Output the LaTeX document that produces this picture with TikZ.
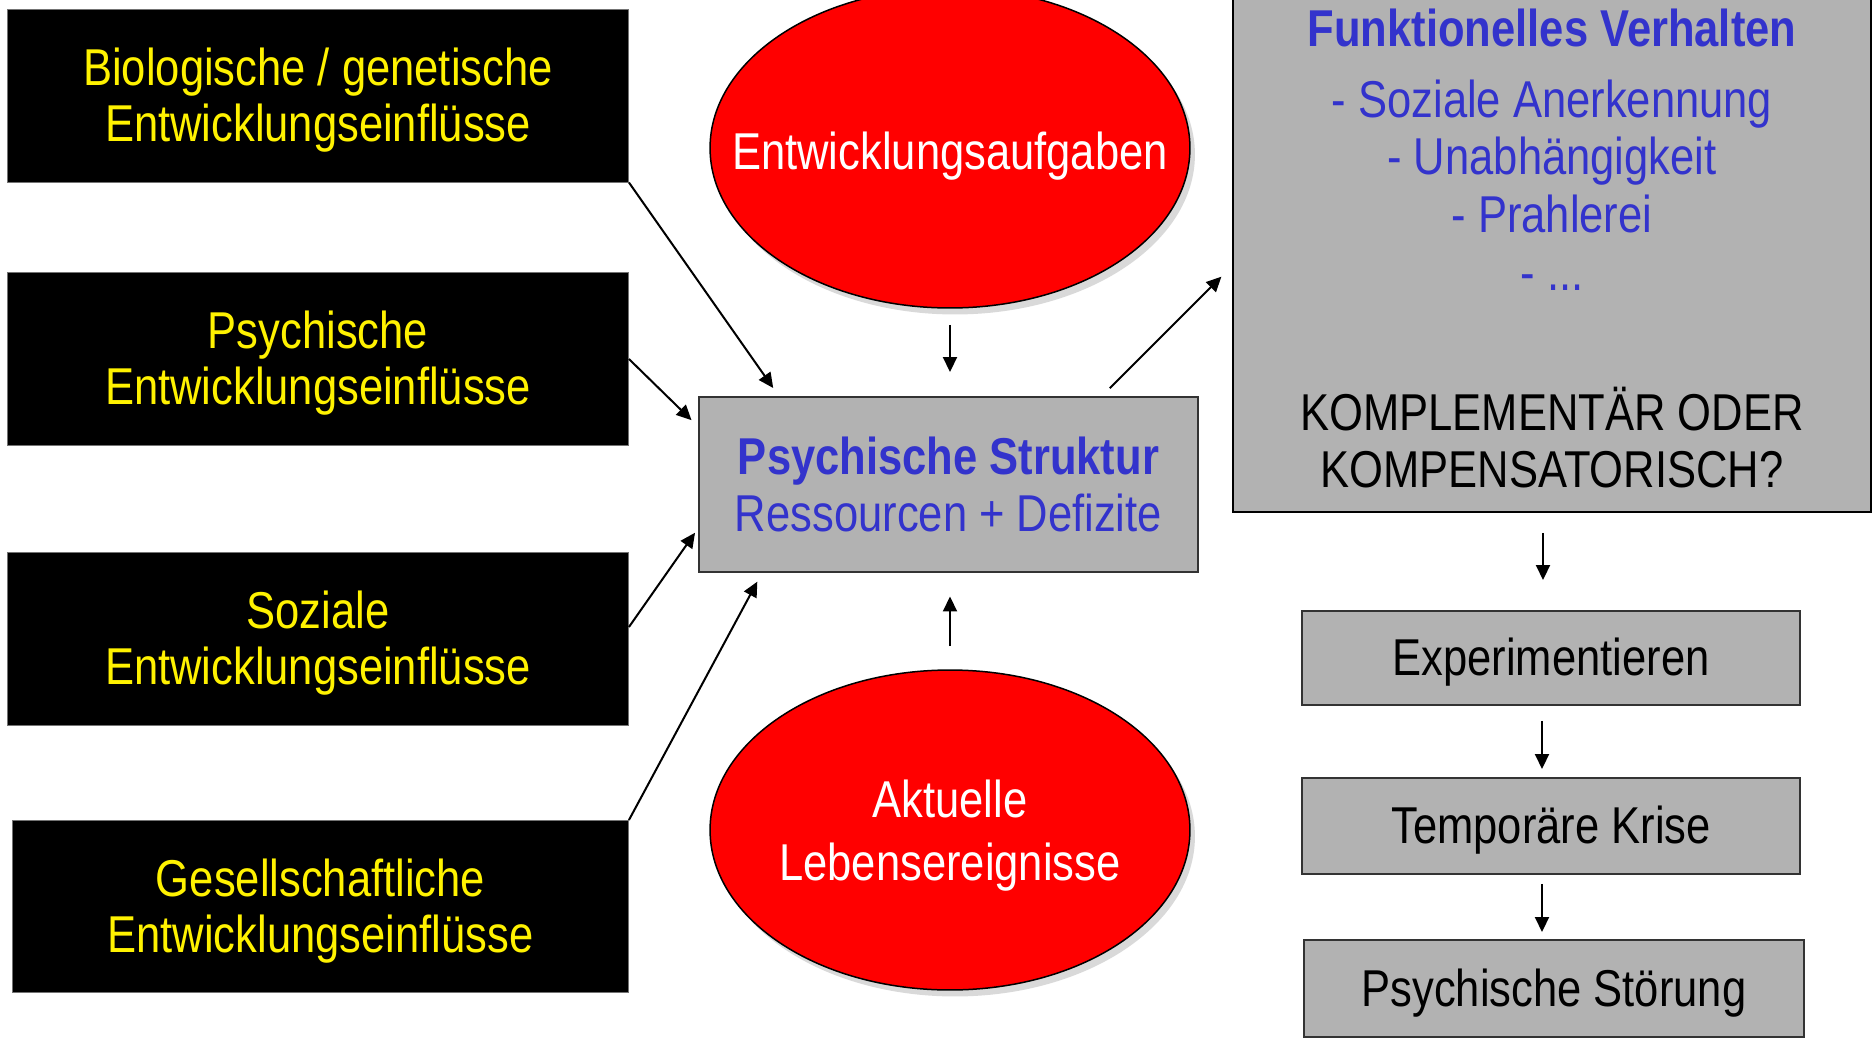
\documentclass[tikz,border=0pt]{standalone}
\usepackage{fontspec}
\setmainfont{Liberation Sans}[FakeStretch=0.84]
\usetikzlibrary{calc,shapes.geometric,shadows,arrows.meta}
\definecolor{strukblau}{RGB}{51,51,204}
\definecolor{kastengrau}{RGB}{178,178,178}
\tikzstyle{einfl}=[rectangle,draw=black!55,line width=0.02cm,fill=black,text=yellow,
  align=center,inner sep=0,outer sep=0,minimum width=12.44cm,minimum height=3.46cm,
  text depth=0.04cm]
\newcommand{\grossschrift}{\fontsize{29.5}{31.8}\selectfont}
\newcommand{\punkte}{...}

\begin{document}
\begin{tikzpicture}[
    x=0.02cm,y=-0.02cm,
    font=\grossschrift,
    grau/.style={rectangle,draw=black!80,line width=0.04cm,fill=kastengrau,
      inner sep=0,outer sep=0,align=center},
    stufe/.style={grau,minimum width=9.96cm,text depth=0.04cm},
    ereignis/.style={ellipse,draw=black,line width=0.03cm,fill=red,inner sep=0,
      outer sep=0,minimum width=9.6cm,minimum height=6.4cm,
      drop shadow={shadow xshift=0.1cm,shadow yshift=-0.13cm,fill=black!15,opacity=1}},
    weiss/.style={text=white,align=center,text depth=0.04cm},
    pfeil/.style={line width=0.04cm,-{Triangle[length=0.3cm,width=0.28cm]}}
    ]

    \useasboundingbox (0,0) rectangle (1874,1038);
    \clip (0,0) rectangle (1874,1038);

    % einfluesse links
    \node[einfl] (bio) at (318,96) {Biologische / genetische\\Entwicklungseinflüsse};
    \node[einfl] (psy) at (318,359) {Psychische\\Entwicklungseinflüsse};
    \node[einfl] (soz) at (318,639) {Soziale\\Entwicklungseinflüsse};
    \node[einfl,minimum width=12.34cm] (ges) at (320.5,906.5)
      {Gesellschaftliche\\Entwicklungseinflüsse};

    % ellipsen
    \node[ereignis] (aufg) at (950,148) {};
    \node[weiss] (aufgtxt) at (950,152) {Entwicklungsaufgaben};
    \node[ereignis] (ereig) at (950,830) {};
    \node[weiss,font=\fontsize{29.5}{35.7}\selectfont] (ereigtxt) at (950,831)
      {Aktuelle\\Lebensereignisse};

    % psychische struktur
    \node[grau,minimum width=9.98cm,minimum height=3.5cm,text=strukblau,
      font=\fontsize{29.5}{32.9}\selectfont] (struk) at (948.5,484.5)
      {{\bfseries Psychische Struktur}\\Ressourcen + Defizite};

    % funktionelles verhalten
    \node[grau,draw=black,minimum width=12.76cm,minimum height=10.34cm] (func)
      at (1552,253.5) {};
    \node[anchor=base,text=strukblau,font=\grossschrift\bfseries] (titel) at (1552,46)
      {Funktionelles Verhalten};
    \foreach \y/\t [count=\i] in {117/Soziale Anerkennung,174/Unabhängigkeit,
        232/Prahlerei,290/{\punkte}} {
      \node[anchor=base,text=strukblau] (punkt\i) at (1552,\y) {- \t};
    }
    \foreach \y/\t [count=\i] in {430/KOMPLEMENTÄR ODER,487/KOMPENSATORISCH?} {
      \node[anchor=base] (frage\i) at (1552,\y) {\t};
    }

    % verlauf
    \node[stufe,minimum height=1.88cm] (exp) at (1551,658) {Experimentieren};
    \node[stufe,minimum height=1.92cm] (temp) at (1551,826) {Temporäre Krise};
    \node[stufe,minimum width=10cm,minimum height=1.94cm] (stoer) at (1554,988.5)
      {Psychische Störung};

    % pfeile
    \draw[pfeil,shorten >=0.22cm] (bio.south east) -- ([xshift=1.61cm]struk.north west);
    \draw[pfeil,shorten >=0.21cm] (psy.east) -- ([yshift=-0.61cm]struk.north west);
    \draw[pfeil,shorten >=0.14cm] ([yshift=0.24cm]soz.east) -- ([yshift=0.9cm]struk.south west);
    \draw[pfeil,shorten >=0.22cm] (ges.north east) -- ([xshift=1.27cm]struk.south west);
    \draw[pfeil,shorten <=0.34cm,shorten >=0.5cm] (aufg.south) -- (aufg.south |- struk.north);
    \draw[pfeil,shorten <=0.48cm,shorten >=0.49cm] (ereig.north) -- (ereig.north |- struk.south);
    \draw[pfeil,shorten <=0.25cm,shorten >=0.33cm] ([xshift=-1.94cm]struk.north east)
      -- ([yshift=-0.23cm]func.west);
    \draw[pfeil,shorten <=0.42cm,shorten >=0.62cm] ([xshift=-0.18cm]func.south)
      -- ([xshift=-0.18cm]func.south |- exp.north);
    \draw[pfeil,shorten <=0.32cm,shorten >=0.18cm] ([xshift=-0.18cm]exp.south)
      -- ([xshift=-0.18cm]exp.south |- temp.north);
    \draw[pfeil,shorten <=0.2cm,shorten >=0.16cm] ([xshift=-0.18cm]temp.south)
      -- ([xshift=-0.18cm]temp.south |- stoer.north);

\end{tikzpicture}
\end{document}
